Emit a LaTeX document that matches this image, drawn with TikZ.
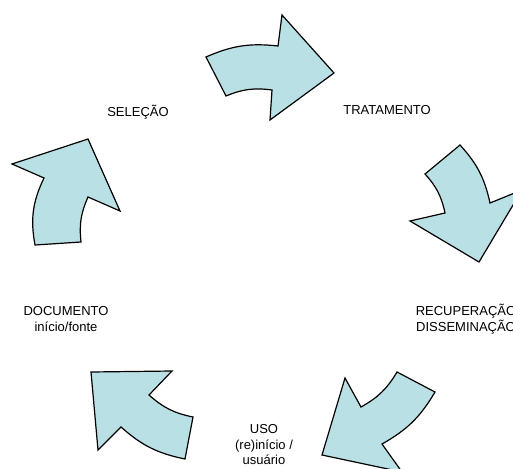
\documentclass[tikz,border=0pt]{standalone}
\usepackage{fontspec}
\setmainfont{Liberation Sans}
\usepackage{tikz}
\definecolor{cyclefill}{RGB}{185,224,228}

\begin{document}
\begin{tikzpicture}[x=1pt,y=1pt]
	\tikzstyle{every node}=[font=\fontsize{13}{15.5}\selectfont, align=center, inner sep=0pt]
	\tikzstyle{cycle arrow}=[draw=black, line width=1.2pt, fill=cyclefill, line join=miter]
	\useasboundingbox (0,0) rectangle (513,-468);

	% the five arrows, clockwise from the top
	\draw[cycle arrow] (206,-57) to[bend left=15] (278,-46) -- (282,-15) -- (334,-73) -- (270,-120) -- (272,-90) to[bend right=15] (226,-96) -- cycle;
	\draw[cycle arrow] (460,-145) to[bend left=15] (490,-203) -- (522,-190) -- (479,-262) -- (410,-221) -- (445,-213) to[bend right=15] (425,-174) -- cycle;
	\draw[cycle arrow] (435,-392) to[bend left=15] (382,-444) -- (402,-472) -- (322,-455) -- (345,-378) -- (361,-407) to[bend right=15] (397,-372) -- cycle;
	\draw[cycle arrow] (185,-459) to[bend left=15] (121,-427) -- (98,-450) -- (91,-372) -- (172,-371) -- (149,-395) to[bend right=15] (193,-417) -- cycle;
	\draw[cycle arrow] (35,-245) to[bend left=18] (44,-178) -- (12,-164) -- (88,-139) -- (120,-211) -- (88,-197) to[bend right=15] (81,-242) -- cycle;

	% labels
	\node (selecao) at (138,-112) {SELEÇÃO};
	\node (tratamento) at (387,-110) {TRATAMENTO};
	\node (recuperacao) at (466,-319) {RECUPERAÇÃO\\DISSEMINAÇÃO};
	\node (uso) at (264,-445) {USO\\(re)início /\\usuário};
	\node (documento) at (66,-319) {DOCUMENTO\\início/fonte};
\end{tikzpicture}
\end{document}
